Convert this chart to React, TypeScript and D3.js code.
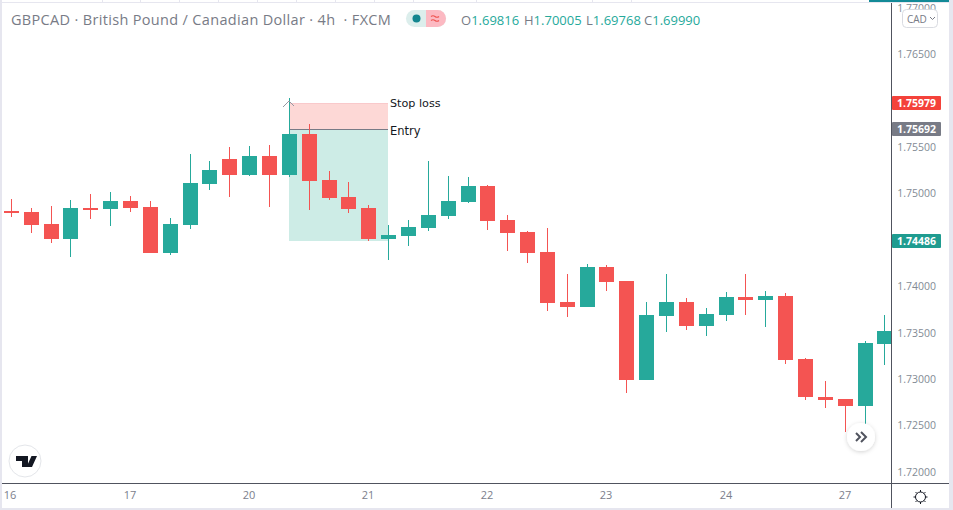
import React from "react";
import * as d3 from "d3";

const opens = [1.74811,1.748,1.74671,1.7451,1.74844,1.74833,1.74919,1.74854,1.74359,1.7466,1.75102,1.75372,1.75199,1.75404,1.75199,1.75641,1.75145,1.74962,1.74844,1.7451,1.74542,1.74628,1.74757,1.74908,1.75081,1.74714,1.74585,1.74369,1.73831,1.73777,1.74208,1.74057,1.7299,1.7368,1.73831,1.73572,1.73691,1.73885,1.73852,1.73895,1.73216,1.72807,1.72785,1.7271,1.73378];
const highs = [1.74941,1.74844,1.74865,1.7493,1.74994,1.75016,1.74973,1.74919,1.74736,1.75425,1.7535,1.75501,1.75512,1.75522,1.76029,1.75749,1.75242,1.75124,1.74876,1.7466,1.74714,1.7535,1.75188,1.75178,1.75091,1.74768,1.74596,1.74628,1.74132,1.7424,1.74229,1.74057,1.73831,1.74132,1.73874,1.73766,1.73938,1.74132,1.73949,1.73928,1.73227,1.72979,1.72785,1.7341,1.73691];
const lows = [1.74747,1.74574,1.74466,1.74316,1.74725,1.7465,1.748,1.74359,1.74337,1.74617,1.75038,1.74962,1.75188,1.74854,1.75178,1.74822,1.7493,1.7479,1.74488,1.74283,1.74434,1.74596,1.74725,1.74897,1.74607,1.7438,1.74251,1.73734,1.73669,1.73777,1.73949,1.7285,1.7299,1.73507,1.73529,1.73464,1.73626,1.73691,1.73561,1.73163,1.72775,1.72688,1.7243,1.72484,1.73152];
const closes = [1.7479,1.7466,1.7451,1.74844,1.74833,1.74919,1.74844,1.74359,1.74671,1.75113,1.75253,1.75199,1.75404,1.75199,1.75641,1.75135,1.74951,1.74833,1.7451,1.74553,1.74639,1.74768,1.74919,1.75081,1.74703,1.74574,1.74359,1.7382,1.73777,1.74208,1.74046,1.7299,1.73691,1.73831,1.73572,1.73701,1.73885,1.73852,1.73895,1.73206,1.72807,1.72775,1.7271,1.73389,1.73518];

const priceTicks = [1.72, 1.725, 1.73, 1.735, 1.74, 1.75, 1.755, 1.765, 1.77];
const dateIndexes = [0, 6, 12, 18, 24, 30, 36, 42];
const dateLabels = ["16", "17", "20", "21", "22", "23", "24", "27"];

const stopLoss = 1.75979;
const entry = 1.75692;
const target = 1.74486;
const positionStart = 14;
const positionEnd = 19;

const ohlcLabels = ["O", "H", "L", "C"];
const ohlcValues = ["1.69816", "1.70005", "1.69768", "1.69990"];
const ohlcOffsets = [461, 524, 586, 644];
const topNotches = [102, 140, 179, 218, 257, 296, 335, 374, 413, 476, 592, 631];

const UI = "'Open Sans', 'Noto Sans', sans-serif";
const RED = "#f45452";
const TEAL = "#26a99b";
const GREY = "#787b86";
const LIGHT = "#e6e6ef";

const x = d3.scaleLinear().domain([0, 44]).range([11.42, 884.91]);
const y = d3.scaleLinear().domain([1.72, 1.765]).range([471.88, 54.0]);
const py = (p: number) => Math.round(y(p));
const px = (i: number) => Math.floor(x(i));

const priceTags = [
  { value: stopLoss, fill: "#f4423a" },
  { value: entry, fill: "#787b86" },
  { value: target, fill: "#1f9c90" },
];

export default function App() {
  const left = px(positionStart);
  const right = px(positionEnd);
  const stopY = Math.ceil(y(stopLoss));
  return (
    <svg
      width={953}
      height={510}
      viewBox="0 0 953 510"
      style={{ position: "fixed", left: 0, top: 0, display: "block", background: "#fff" }}
    >
      <defs>
        <clipPath id="pane"><rect x={2} y={3} width={889} height={480} /></clipPath>
        <filter id="soft" x="-40%" y="-40%" width="180%" height="180%">
          <feDropShadow dx={0} dy={1} stdDeviation={2} floodColor="#000" floodOpacity={0.18} />
        </filter>
      </defs>

      <g clipPath="url(#pane)">
        <rect x={left} y={stopY} width={right - left} height={py(entry) - stopY} fill="#fdd8d6" />
        <rect x={left} y={stopY} width={right - left} height={1} fill="#f9c9cb" />
        <rect x={left} y={py(entry)} width={right - left} height={py(target) - py(entry)} fill="#cdece6" />
        <rect x={left} y={py(entry)} width={right - left} height={1} fill={GREY} />

        {opens.map((o, i) => {
          const c = closes[i];
          const color = c >= o ? TEAL : RED;
          const top = py(Math.max(o, c));
          const bottom = py(Math.min(o, c));
          return (
            <g key={i} fill={color}>
              <rect x={px(i)} y={py(highs[i])} width={1} height={py(lows[i]) - py(highs[i])} />
              <rect x={px(i) - 7} y={top} width={15} height={Math.max(bottom - top, 2)} />
            </g>
          );
        })}

        <path d={d3.line()([[left - 6, 107], [left, 101], [left + 5, 106]]) ?? ""} fill="none" stroke="#9598a1" strokeWidth={1} />
      </g>

      <text x={390} y={107} fontFamily="'DejaVu Sans', sans-serif" fontSize={11.2} fill="#131722">Stop loss</text>
      <text x={390} y={135} fontFamily="'DejaVu Sans', sans-serif" fontSize={11.5} fill="#131722">Entry</text>

      <rect x={0} y={0} width={2} height={510} fill={LIGHT} />
      <rect x={0} y={2} width={953} height={1} fill={LIGHT} />
      {topNotches.map((n) => (
        <rect key={n} x={n} y={0} width={1} height={2} fill={LIGHT} />
      ))}
      <rect x={949} y={0} width={4} height={510} fill={LIGHT} />
      <rect x={0} y={508} width={953} height={2} fill={LIGHT} />
      <rect x={869} y={0} width={80} height={2} fill="#138a97" />

      <rect x={891} y={3} width={1} height={505} fill="#50535e" />
      <rect x={2} y={483} width={947} height={1} fill="#50535e" />

      <g fontFamily={UI} fontSize={10.5} fill="#838b95">
        {priceTicks.map((t) => (
          <text key={t} x={936} y={y(t) + 4} textAnchor="end">{t.toFixed(5)}</text>
        ))}
      </g>

      <rect x={902.5} y={9.5} width={35} height={18} rx={4} fill="#fff" stroke="#d9dbe1" />
      <text x={907} y={22.5} fontFamily={UI} fontSize={10} fill="#787b86">CAD</text>
      <path d="M930 17l2.5 2.5 2.5-2.5" fill="none" stroke="#787b86" />

      {priceTags.map((t) => (
        <g key={t.value}>
          <rect x={892} y={Math.round(y(t.value) - 6.6)} width={49} height={14} rx={1} fill={t.fill} />
          <text x={936} y={Math.round(y(t.value) - 6.6) + 11} textAnchor="end" fontFamily={UI} fontSize={10.5} fontWeight={700} fill="#fff">
            {t.value.toFixed(5)}
          </text>
        </g>
      ))}

      <g fontFamily={UI} fontSize={11} fill="#7b808c" textAnchor="middle">
        {dateIndexes.map((d, i) => (
          <text key={d} x={px(d) - (i === 0 ? 1 : 0)} y={499}>{dateLabels[i]}</text>
        ))}
      </g>

      <text x={11} y={25} fontFamily={UI} fontSize={14.5} letterSpacing={0.33} fill="#787b86" xmlSpace="preserve">
        GBPCAD · British Pound / Canadian Dollar · 4h  · FXCM
      </text>

      <rect x={406} y={10} width={40} height={17} rx={8.5} fill="#dceeec" />
      <path d="M426 10h11.5a8.5 8.5 0 0 1 0 17h-11.5z" fill="#fcb9c2" />
      <circle cx={416.5} cy={18.5} r={4} fill="#13868f" />
      <path d="M431 16.5q2-1.500 4 0t4 0M431 20.500q2-1.500 4 0t4 0" fill="none" stroke="#ef5350" strokeWidth={1.2} />

      <g fontFamily={UI} fontSize={13} fill={TEAL}>
        {ohlcLabels.map((l, i) => (
          <text key={l} x={ohlcOffsets[i]} y={25}>
            <tspan fill="#787b86">{l}</tspan>{ohlcValues[i]}
          </text>
        ))}
      </g>

      <circle cx={25} cy={461} r={16} fill="#fff" stroke="#e4e6ea" />
      <path d="M16 456h12v11h-6v-6h-6zM37 456l-5 11h-5.500l5-11z" fill="#131722" />

      <circle cx={861} cy={437} r={14} fill="#fff" filter="url(#soft)" />
      <path d="M861 432l5 5-5 5M856 433l4 4-4 4" fill="none" stroke="#50535e" strokeWidth={2} />

      <g fill="none" stroke="#131722" strokeWidth={1}>
        <circle cx={920.500} cy={497} r={5} />
        {d3.range(8).map((k) => {
          const a = (k * Math.PI) / 4;
          return (
            <line
              key={k}
              x1={920.5 + Math.cos(a) * 5}
              y1={497 + Math.sin(a) * 5}
              x2={920.5 + Math.cos(a) * 7}
              y2={497 + Math.sin(a) * 7}
            />
          );
        })}
      </g>
    </svg>
  );
}
